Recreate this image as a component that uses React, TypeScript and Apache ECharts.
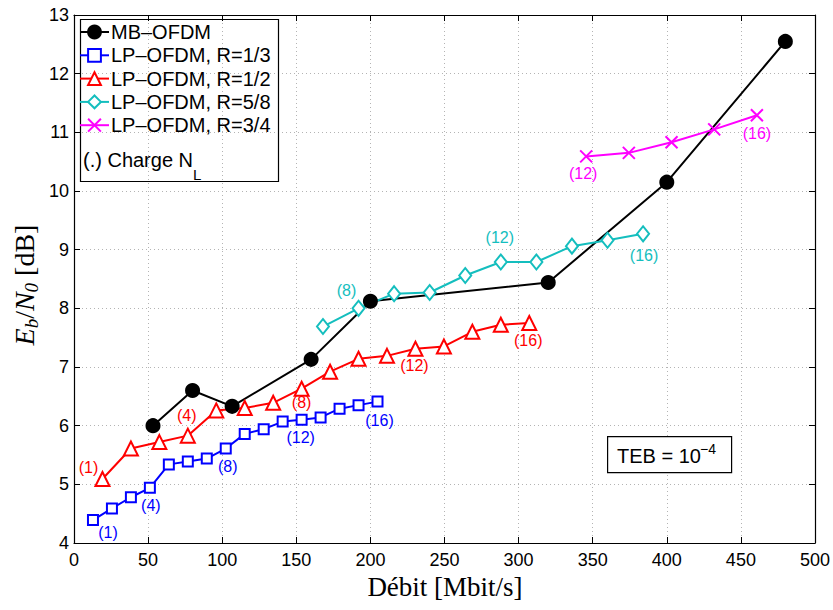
import React, { useEffect, useRef } from "react";
import * as echarts from "echarts";

// ---- data ----
const xMB = [53.3, 80, 106.7, 160, 200, 320, 400, 480];
const yMB = [6.0, 6.6, 6.33, 7.13, 8.12, 8.44, 10.15, 12.55];

const loadsR13 = [1, 2, 3, 4, 5, 6, 7, 8, 9, 10, 11, 12, 13, 14, 15, 16];
const xR13 = [12.8, 25.6, 38.4, 51.2, 64, 76.8, 89.6, 102.4, 115.2, 128, 140.8, 153.6, 166.4, 179.2, 192, 204.8];
const yR13 = [4.39, 4.59, 4.78, 4.94, 5.34, 5.39, 5.44, 5.61, 5.86, 5.94, 6.07, 6.1, 6.14, 6.29, 6.35, 6.41];

const loadsR12 = [1, 2, 3, 4, 5, 6, 7, 8, 9, 10, 11, 12, 13, 14, 15, 16];
const xR12 = [19.2, 38.4, 57.6, 76.8, 96, 115.2, 134.4, 153.6, 172.8, 192, 211.2, 230.4, 249.6, 268.8, 288, 307.2];
const yR12 = [5.09, 5.61, 5.72, 5.83, 6.26, 6.3, 6.39, 6.63, 6.92, 7.14, 7.19, 7.31, 7.35, 7.6, 7.72, 7.75];

const loadsR58 = [7, 8, 9, 10, 11, 12, 13, 14, 15, 16];
const xR58 = [168, 192, 216, 240, 264, 288, 312, 336, 360, 384];
const yR58 = [7.69, 8.0, 8.25, 8.27, 8.56, 8.79, 8.79, 9.06, 9.16, 9.27];

const loadsR34 = [12, 13, 14, 15, 16];
const xR34 = [345.6, 374.4, 403.2, 432, 460.8];
const yR34 = [10.59, 10.65, 10.83, 11.05, 11.29];

const labeledR13 = [1, 4, 8, 12, 16];
const labeledR12 = [1, 4, 8, 12, 16];
const labeledR58 = [8, 12, 16];
const labeledR34 = [12, 16];

const seriesNames = [
  "MB\u2013OFDM",
  "LP\u2013OFDM, R=1/3",
  "LP\u2013OFDM, R=1/2",
  "LP\u2013OFDM, R=5/8",
  "LP\u2013OFDM, R=3/4",
];

const xTicks = { min: 0, max: 500, interval: 50 };
const yTicks = { min: 4, max: 13, interval: 1 };

// ---- styles ----
const COL = ["#000000", "#0000ff", "#ff0000", "#14bebe", "#ff00ff"];
const SANS = "Liberation Sans";
const SERIF = "Liberation Serif";

// label offsets (px) relative to the marker centre, keyed by load
const offR13: Record<number, number[]> = { 1: [15, 12], 4: [1, 18], 8: [2, 18], 12: [-1, 18], 16: [2, 19] };
const offR12: Record<number, number[]> = { 1: [-14, -12], 4: [-1, -20], 8: [0, 14], 12: [-1, 17], 16: [-1, 17] };
const offR58: Record<number, number[]> = { 8: [-12, -18], 12: [-1, -24], 16: [1, 22] };
const offR34: Record<number, number[]> = { 12: [-3, 17], 16: [0, 18] };

function build(xs: number[], ys: number[], loads: number[] | null, labeled: number[], offs: Record<number, number[]>, color: string) {
  return xs.map((x, i) => {
    const item: any = { value: [x, ys[i]] };
    if (loads && labeled.includes(loads[i])) {
      const o = offs[loads[i]] || [0, 16];
      item.label = {
        show: true,
        position: "inside",
        offset: o,
        formatter: "(" + loads[i] + ")",
        color,
        fontFamily: SANS,
        fontSize: 16,
        align: "center",
        verticalAlign: "middle",
      };
    }
    return item;
  });
}

export default function App() {
  const ref = useRef<HTMLDivElement>(null);
  useEffect(() => {
    if (!ref.current) return;
    const chart = echarts.init(ref.current, null, { renderer: "svg" });

    const gridLeft = 74, gridTop = 15, gridRight = 16, gridBottom = 67;

    const baseSeries = (name: string, color: string, symbol: string, size: any, data: any[], fill: string) => ({
      name,
      type: "line",
      data,
      symbol,
      symbolSize: size,
      showSymbol: true,
      showAllSymbol: true,
      lineStyle: { color, width: 2 },
      itemStyle: { color: fill, borderColor: color, borderWidth: 2 },
      label: { show: false },
      z: 3,
    });

    const axisCommon = {
      type: "value",
      axisLine: { show: true, onZero: false, lineStyle: { color: "#000", width: 1.2 } },
      axisTick: { show: true, inside: true, length: 6, lineStyle: { color: "#000" } },
    };

    const option: any = {
      animation: false,
      backgroundColor: "#ffffff",
      grid: { left: gridLeft, top: gridTop, right: gridRight, bottom: gridBottom, containLabel: false },
      xAxis: [
        {
          ...axisCommon,
          min: xTicks.min,
          max: xTicks.max,
          interval: xTicks.interval,
          position: "bottom",
          axisLabel: { color: "#000", fontFamily: SANS, fontSize: 18, margin: 8 },
          splitLine: { show: true, lineStyle: { color: "#b4b4b4", type: [1, 3], width: 1 } },
        },
        {
          ...axisCommon,
          min: xTicks.min,
          max: xTicks.max,
          interval: xTicks.interval,
          position: "top",
          axisLabel: { show: false },
          splitLine: { show: false },
        },
      ],
      yAxis: [
        {
          ...axisCommon,
          min: yTicks.min,
          max: yTicks.max,
          interval: yTicks.interval,
          position: "left",
          axisLabel: { color: "#000", fontFamily: SANS, fontSize: 18, margin: 5 },
          splitLine: { show: true, lineStyle: { color: "#b4b4b4", type: [1, 3], width: 1 } },
        },
        {
          ...axisCommon,
          min: yTicks.min,
          max: yTicks.max,
          interval: yTicks.interval,
          position: "right",
          axisLabel: { show: false },
          splitLine: { show: false },
        },
      ],
      legend: {
        show: true,
        orient: "vertical",
        left: 79,
        top: 22,
        padding: 0,
        itemWidth: 29,
        itemHeight: 16,
        itemGap: 3.3,
        data: seriesNames,
        textStyle: { color: "#000", fontFamily: SANS, fontSize: 20, padding: [0, 0, 0, -3] },
        selectedMode: false,
      },
      series: [
        baseSeries(seriesNames[0], COL[0], "circle", 13, build(xMB, yMB, null, [], {}, COL[0]), COL[0]),
        baseSeries(seriesNames[1], COL[1], "rect", 10, build(xR13, yR13, loadsR13, labeledR13, offR13, COL[1]), "#ffffff"),
        baseSeries(seriesNames[2], COL[2], "triangle", 14, build(xR12, yR12, loadsR12, labeledR12, offR12, COL[2]), "#ffffff"),
        baseSeries(seriesNames[3], COL[3], "diamond", [12, 15], build(xR58, yR58, loadsR58, labeledR58, offR58, COL[3]), "#ffffff"),
        baseSeries(seriesNames[4], COL[4], "path://M0,0L10,10M10,0L0,10", 12, build(xR34, yR34, loadsR34, labeledR34, offR34, COL[4]), COL[4]),
      ],
      graphic: [
        {
          type: "rect",
          left: 78,
          top: 17,
          shape: { width: 198, height: 162 },
          style: { fill: "none", stroke: "#000", lineWidth: 1.2 },
          z: 1,
        },
        {
          type: "text",
          x: 83,
          y: 160,
          style: { text: "(.) Charge N", fontFamily: SANS, fontSize: 20, fill: "#000", align: "left", verticalAlign: "middle" },
          z: 10,
        },
        {
          type: "text",
          x: 193,
          y: 174,
          style: { text: "L", fontFamily: SANS, fontSize: 15, fill: "#000", align: "left", verticalAlign: "middle" },
          z: 10,
        },
        {
          type: "rect",
          left: 607,
          top: 436,
          shape: { width: 124, height: 36 },
          style: { fill: "#fff", stroke: "#000", lineWidth: 1.2 },
          z: 5,
        },
        {
          type: "text",
          x: 617,
          y: 456,
          style: { text: "TEB = 10", fontFamily: SANS, fontSize: 20, fill: "#000", align: "left", verticalAlign: "middle" },
          z: 10,
        },
        {
          type: "text",
          x: 700,
          y: 449,
          style: { text: "\u22124", fontFamily: SANS, fontSize: 14, fill: "#000", align: "left", verticalAlign: "middle" },
          z: 10,
        },
        {
          type: "text",
          x: 445,
          y: 587,
          style: {
            text: "D\u00e9bit [Mbit/s]",
            fontFamily: SERIF,
            fontSize: 27,
            fill: "#000",
            align: "center",
            verticalAlign: "middle",
          },
          z: 10,
        },
        {
          type: "text",
          x: 24,
          y: 285,
          rotation: Math.PI / 2,
          style: {
            text: "{i|E}{s|b}{n|/}{i|N}{s|0}{n| [dB]}",
            align: "center",
            verticalAlign: "middle",
            rich: {
              i: { fontFamily: SERIF, fontStyle: "italic", fontSize: 28, fill: "#000", lineHeight: 34, verticalAlign: "middle" },
              n: { fontFamily: SERIF, fontSize: 28, fill: "#000", lineHeight: 34, verticalAlign: "middle" },
              s: { fontFamily: SERIF, fontStyle: "italic", fontSize: 19, fill: "#000", lineHeight: 34, verticalAlign: "bottom" },
            },
          },
          z: 10,
        },
      ],
    };
    chart.setOption(option);
    return () => chart.dispose();
  }, []);

  return (
    <div
      ref={ref}
      style={{ position: "fixed", left: 0, top: 0, width: 833, height: 610, background: "#fff" }}
    />
  );
}
